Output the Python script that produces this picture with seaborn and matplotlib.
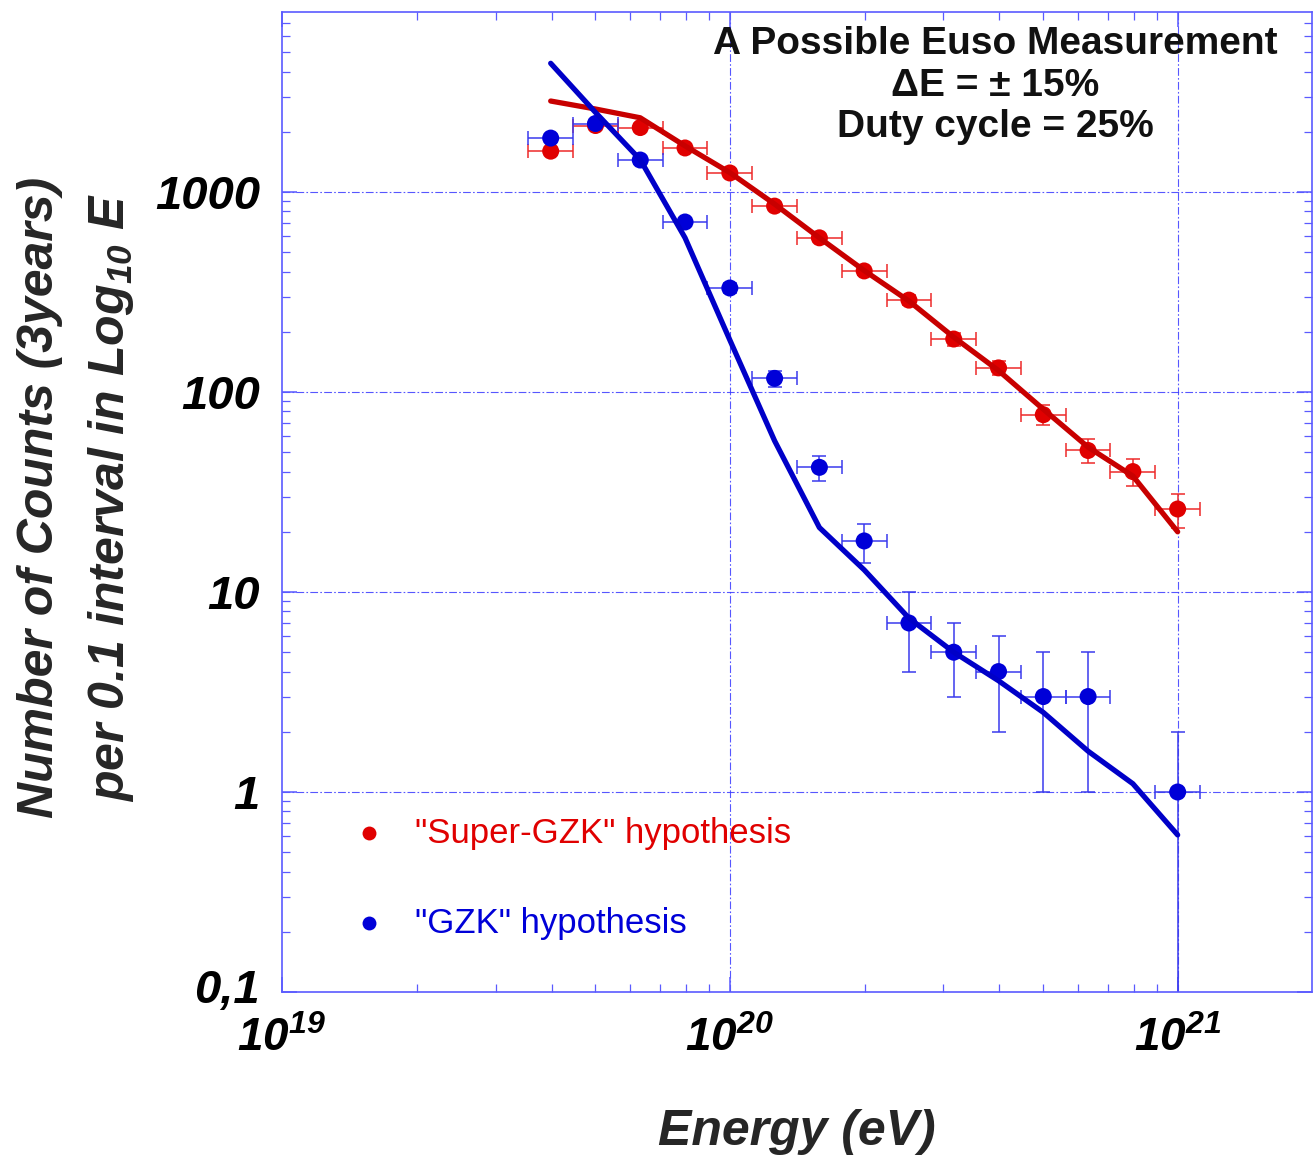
import numpy as np
import pandas as pd
import matplotlib
matplotlib.use("Agg")
import matplotlib.pyplot as plt
from matplotlib.ticker import LogLocator, FixedLocator, FixedFormatter, NullFormatter
from matplotlib.transforms import ScaledTranslation
import seaborn as sns

# ---- data ---------------------------------------------------------------
# bin centres, log10(E / eV)
log_e_bins = [19.6, 19.7, 19.8, 19.9, 20.0, 20.1, 20.2, 20.3, 20.4, 20.5,
              20.6, 20.7, 20.8, 20.9, 21.0]

# "Super-GZK" hypothesis: simulated counts and model curve
super_counts = [1600, 2150, 2100, 1660, 1245, 850, 590, 403, 288, 184,
                132, 77, 51, 40, 26]
super_err = [40, 46, 46, 41, 35, 29, 24, 20, 17, 14, 11, 9, 7, 6, 5]
super_model = [2850, 2600, 2350, 1700, 1250, 870, 590, 405, 285, 188,
               128, 82, 53, 38, 20]

# "GZK" hypothesis: simulated counts (no event in the 20.9 bin) and model curve
gzk_log_e = [19.6, 19.7, 19.8, 19.9, 20.0, 20.1, 20.2, 20.3, 20.4, 20.5,
             20.6, 20.7, 20.8, 21.0]
gzk_counts = [1860, 2200, 1445, 708, 331, 117, 42, 18, 7, 5, 4, 3, 3, 1]
gzk_err = [43, 47, 38, 27, 18, 11, 6, 4, 3, 2, 2, 2, 2, 1]
gzk_model = [4400, 2500, 1450, 590, 182, 57, 21, 12.9, 7.4, 5.0, 3.6, 2.5,
             1.6, 1.1, 0.61]

# half-width of the energy error bars in log10(E)
dlog_e = 0.05

y_tick_values = [0.1, 1, 10, 100, 1000]
y_tick_labels = ["0,1", "1", "10", "100", "1000"]
x_tick_values = [1e19, 1e20, 1e21]
x_tick_labels = [r"$10^{19}$", r"$10^{20}$", r"$10^{21}$"]

# ---- style --------------------------------------------------------------
sns.set_style("white")
plt.rcParams["font.family"] = ["Liberation Sans", "DejaVu Sans"]
plt.rcParams["mathtext.fontset"] = "custom"
plt.rcParams["mathtext.rm"] = "Liberation Sans:italic:bold"
plt.rcParams["mathtext.it"] = "Liberation Sans:italic:bold"
plt.rcParams["mathtext.bf"] = "Liberation Sans:italic:bold"

RED_PT = "#e00000"
RED_LN = "#c80000"
BLUE_PT = "#0000d8"
BLUE_LN = "#0000c8"
AXIS_BLUE = "#5a5aff"

W, H = 1315, 1161
fig = plt.figure(figsize=(W / 100, H / 100), dpi=100)
ax = fig.add_axes([282 / W, 1 - 992 / H, (1312 - 282) / W, (992 - 12) / H])
ax.set_xscale("log")
ax.set_yscale("log")
ax.set_xlim(1e19, 10 ** 21.3)
ax.set_ylim(0.1, 10 ** 3.9)

super_df = pd.DataFrame({"E": np.power(10.0, log_e_bins),
                         "counts": super_counts, "err": super_err,
                         "model": super_model})
gzk_pts = pd.DataFrame({"E": np.power(10.0, gzk_log_e),
                        "counts": gzk_counts, "err": gzk_err})
gzk_curve = pd.DataFrame({"E": np.power(10.0, log_e_bins), "model": gzk_model})

# grid at decades
grid_kw = dict(color="#3a3aff", lw=0.8, ls=(0, (7, 2, 1.5, 2)), alpha=0.85, zorder=0)
for v in [1e20, 1e21]:
    ax.axvline(v, **grid_kw)
for v in [1, 10, 100, 1000]:
    ax.axhline(v, **grid_kw)


def draw_errors(df, color):
    e = df["E"].to_numpy()
    c = df["counts"].to_numpy(dtype=float)
    err = df["err"].to_numpy(dtype=float)
    xlo = e - e * 10 ** (-dlog_e)
    xhi = e * 10 ** dlog_e - e
    ylo = np.minimum(err, c * 0.9999)
    ax.errorbar(e, c, xerr=[xlo, xhi], yerr=[ylo, err], fmt="none",
                ecolor=color, elinewidth=1.1, capsize=5, capthick=1.1, zorder=2)


# Super-GZK
draw_errors(super_df, "#ee2a2a")
sns.scatterplot(data=super_df, x="E", y="counts", ax=ax, color=RED_PT, s=150,
                edgecolor="none", zorder=3, legend=False)
sns.lineplot(data=super_df, x="E", y="model", ax=ax, color=RED_LN, lw=3.8,
             zorder=4, legend=False)

# GZK
draw_errors(gzk_pts, "#3a3aee")
sns.scatterplot(data=gzk_pts, x="E", y="counts", ax=ax, color=BLUE_PT, s=150,
                edgecolor="none", zorder=5, legend=False)
sns.lineplot(data=gzk_curve, x="E", y="model", ax=ax, color=BLUE_LN, lw=3.8,
             zorder=6, legend=False)

# axes frame and ticks
for s in ax.spines.values():
    s.set_color(AXIS_BLUE)
    s.set_linewidth(1.2)
ax.tick_params(which="both", direction="in", colors=AXIS_BLUE, top=True,
               right=True, bottom=True, left=True)
ax.tick_params(which="major", length=11, width=1.1)
ax.tick_params(which="minor", length=6, width=0.9)
ax.xaxis.set_minor_locator(LogLocator(base=10, subs=np.arange(2, 10)))
ax.yaxis.set_minor_locator(LogLocator(base=10, subs=np.arange(2, 10)))
ax.xaxis.set_minor_formatter(NullFormatter())
ax.yaxis.set_minor_formatter(NullFormatter())
ax.yaxis.set_major_locator(FixedLocator(y_tick_values))
ax.yaxis.set_major_formatter(FixedFormatter(y_tick_labels))
ax.xaxis.set_major_locator(FixedLocator(x_tick_values))
ax.xaxis.set_major_formatter(FixedFormatter(x_tick_labels))
ax.set_xlabel("")
ax.set_ylabel("")
ax.tick_params(axis="y", which="major", labelcolor="black", pad=16)
ax.tick_params(axis="x", which="major", labelcolor="black", pad=18)
for lab in ax.get_yticklabels():
    lab.set_fontsize(34)
    lab.set_fontweight("bold")
    lab.set_fontstyle("italic")
# lift the lowest y label a little so it clears the x labels
bottom_lab = ax.get_yticklabels()[0]
bottom_lab.set_transform(bottom_lab.get_transform()
                         + ScaledTranslation(0, 6 / 100, fig.dpi_scale_trans))
for lab in ax.get_xticklabels():
    lab.set_fontsize(33)

# annotation block
info_kw = dict(transform=ax.transAxes, ha="center", va="center",
               fontsize=28, fontweight="bold", color="#111111")
cx = (995 - 282) / (1312 - 282)
ax.text(cx, (992 - 44) / 980, "A Possible Euso Measurement", **info_kw)
ax.text(cx, (992 - 86) / 980, "\u0394E = \u00b1 15%", **info_kw)
ax.text(cx, (992 - 127) / 980, "Duty cycle = 25%", **info_kw)

# legend drawn as markers and coloured text
for yy, lbl, col in [(833, '"Super-GZK" hypothesis', RED_PT),
                     (923, '"GZK" hypothesis', BLUE_PT)]:
    ya = (992 - yy) / 980
    ax.plot([(369 - 282) / 1030], [ya], "o", transform=ax.transAxes,
            color=col, ms=10, mec="none")
    ax.text((415 - 282) / 1030, ya, lbl, transform=ax.transAxes,
            ha="left", va="center", fontsize=25, color=col)

# axis titles
fig.text(797 / W, 1 - 1132 / H, "Energy (eV)", ha="center", va="center",
         fontsize=36, fontweight="bold", fontstyle="italic")
fig.text(40 / W, 1 - 497 / H, "Number of Counts (3years)", rotation=90,
         ha="center", va="center", fontsize=36, fontweight="bold",
         fontstyle="italic")
fig.text(111 / W, 1 - 497 / H, r"per 0.1 interval in Log$_{10}$ E", rotation=90,
         ha="center", va="center", fontsize=36, fontweight="bold",
         fontstyle="italic")

fig.savefig("out.png", dpi=100, facecolor="white")
